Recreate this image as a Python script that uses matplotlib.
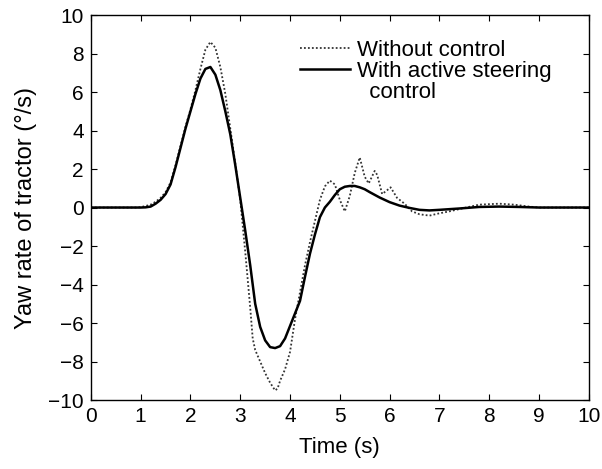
from matplotlib import pyplot as plt
from matplotlib.lines import Line2D
import numpy as np

plt.rcParams['font.family'] = ['Liberation Sans', 'DejaVu Sans']

# yaw rate without control (dotted)
t_off = [0, 0.9, 1.0, 1.1, 1.2, 1.3, 1.4, 1.5, 1.6, 1.7, 1.8, 1.9, 2.0, 2.1, 2.2, 2.3, 2.4,
         2.5, 2.6, 2.7, 2.8, 2.9, 3.0, 3.1, 3.2, 3.25, 3.3, 3.4, 3.5, 3.6, 3.7, 3.75, 3.8,
         3.9, 4.0, 4.1, 4.2, 4.3, 4.4, 4.5, 4.6, 4.7, 4.8, 4.9, 5.0, 5.1, 5.2, 5.3, 5.4,
         5.5, 5.58, 5.7, 5.75, 5.85, 5.95, 6.02, 6.15, 6.3, 6.45, 6.6, 6.8, 7.0, 7.2, 7.45,
         7.8, 8.2, 8.5, 8.8, 9.0, 9.5, 10]
yaw_off = [0, 0, 0.02, 0.08, 0.15, 0.3, 0.5, 0.8, 1.3, 2.2, 3.2, 4.2, 5.1, 6.1, 7.2, 8.2, 8.6,
           8.3, 7.3, 5.9, 4.1, 2.3, 0.4, -2.3, -5.2, -6.8, -7.4, -8.0, -8.6, -9.1, -9.5, -9.4, -9.0,
           -8.4, -7.5, -5.8, -4.4, -3.0, -1.8, -0.7, 0.4, 1.1, 1.4, 1.2, 0.4, -0.2, 0.6, 1.8, 2.6,
           1.6, 1.25, 1.9, 1.7, 0.7, 0.9, 1.05, 0.5, 0.2, -0.2, -0.35, -0.42, -0.3, -0.2, -0.05,
           0.15, 0.2, 0.15, 0.05, 0.0, 0, 0]

# yaw rate with active steering control (solid)
t_on = [0, 1.0, 1.1, 1.2, 1.3, 1.4, 1.5, 1.6, 1.7, 1.8, 1.9, 2.0, 2.1, 2.2, 2.3, 2.4, 2.5,
        2.6, 2.7, 2.8, 2.9, 3.0, 3.1, 3.2, 3.3, 3.4, 3.5, 3.6, 3.7, 3.8, 3.9, 4.0, 4.1, 4.2,
        4.3, 4.4, 4.5, 4.6, 4.7, 4.8, 4.9, 5.0, 5.1, 5.2, 5.3, 5.4, 5.5, 5.6, 5.8, 6.0, 6.2,
        6.4, 6.6, 6.8, 7.0, 7.4, 7.8, 8.2, 8.6, 9.0, 10]
yaw_on = [0, 0, 0.01, 0.05, 0.2, 0.4, 0.7, 1.2, 2.1, 3.1, 4.1, 5.0, 5.9, 6.7, 7.2, 7.3, 6.9,
          6.1, 5.0, 3.8, 2.2, 0.5, -1.2, -3.0, -5.0, -6.2, -6.9, -7.25, -7.3, -7.2, -6.8, -6.15, -5.5, -4.85,
          -3.6, -2.4, -1.4, -0.5, 0.0, 0.3, 0.65, 0.95, 1.08, 1.12, 1.12, 1.05, 0.95, 0.8, 0.52, 0.28, 0.1,
          -0.02, -0.12, -0.15, -0.12, -0.05, 0.03, 0.05, 0.03, 0.0, 0]

fig = plt.figure(figsize=(6.02, 4.69), dpi=100)
ax = fig.add_axes([0.151, 0.147, 0.827, 0.821])

ax.plot(t_off, yaw_off, color='#333333', linestyle=(0, (1, 1.2)), linewidth=1.3, label='Without control')
ax.plot(t_on, yaw_on, color='black', linestyle='-', linewidth=1.8, label='With active steering')
blank = Line2D([], [], linestyle='none')

handles, labels = ax.get_legend_handles_labels()
handles.append(blank)
labels.append('  control')
ax.legend(handles, labels, loc='upper left', bbox_to_anchor=(0.388, 0.975), frameon=False,
          fontsize=16, handlelength=2.25, handletextpad=0.35, labelspacing=0.0, borderpad=0.2)

ax.set_xlim(0, 10)
ax.set_ylim(-10, 10)
ax.set_xticks(np.arange(0, 11, 1))
ax.set_yticks(np.arange(-10, 11, 2))
ax.tick_params(direction='in', top=True, right=True, length=4, labelsize=15, pad=5)
ax.set_xlabel('Time (s)', fontsize=16, labelpad=8)
ax.set_ylabel('Yaw rate of tractor (°/s)', fontsize=17, labelpad=8)
for s in ax.spines.values():
	s.set_linewidth(1.0)

plt.savefig('out.png', dpi=100)
